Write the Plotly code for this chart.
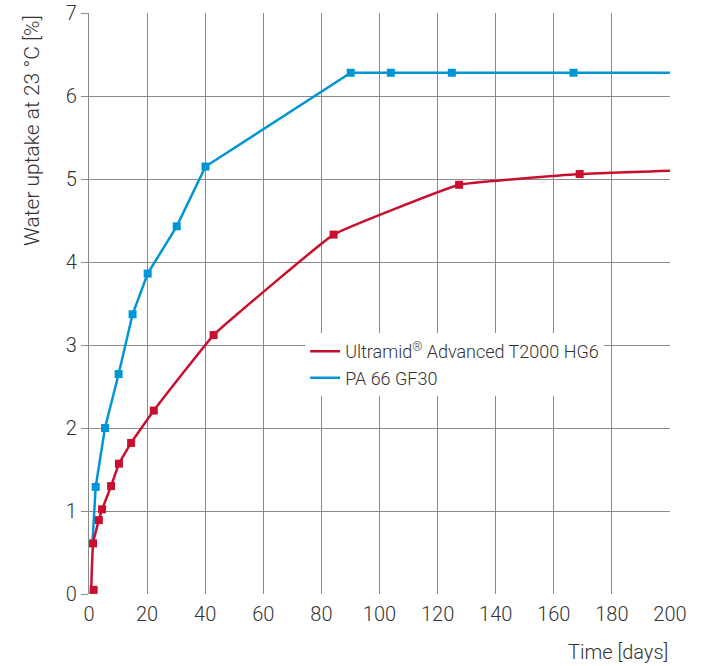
import plotly.graph_objects as go

# Data
red_name = "Ultramid<sup>®</sup> Advanced T2000 HG6"
red_days = [1.6, 1.4, 3.4, 4.5, 7.6, 10.3, 14.5, 22.3, 42.9, 84.2, 127.4, 168.9]
red_vals = [0.05, 0.61, 0.89, 1.02, 1.30, 1.57, 1.82, 2.21, 3.12, 4.33, 4.93, 5.06]
red_start_day = [0.7]
red_start_val = [0.0]
red_end_day = [200]
red_end_val = [5.10]

blue_name = "PA 66 GF30"
blue_days = [2.3, 5.5, 10.2, 15.0, 20.2, 30.2, 40.1, 90.1, 103.9, 124.9, 166.8]
blue_vals = [1.29, 2.00, 2.65, 3.37, 3.86, 4.43, 5.15, 6.28, 6.28, 6.28, 6.28]
blue_start_day = [1.2]
blue_start_val = [0.62]
blue_end_day = [200]
blue_end_val = [6.28]

x_ticks = [0, 20, 40, 60, 80, 100, 120, 140, 160, 180, 200]
y_ticks = [0, 1, 2, 3, 4, 5, 6, 7]

RED = "#C8102E"
BLUE = "#0095D6"
GRID = "#8a8a8a"
TXT = "#333333"
FONT = "Roboto"
W = 300

fig = go.Figure()

fig.add_trace(go.Scatter(
    x=blue_start_day + blue_days + blue_end_day,
    y=blue_start_val + blue_vals + blue_end_val,
    mode="lines", line=dict(color=BLUE, width=2.5),
    showlegend=False, hoverinfo="skip"))
fig.add_trace(go.Scatter(
    x=blue_days, y=blue_vals, mode="markers",
    marker=dict(symbol="square", size=8, color=BLUE),
    showlegend=False))

red_line_x = red_start_day + red_days[1:] + red_end_day
red_line_y = red_start_val + red_vals[1:] + red_end_val
fig.add_trace(go.Scatter(
    x=red_line_x, y=red_line_y,
    mode="lines", line=dict(color=RED, width=2.5, shape="spline", smoothing=0.25),
    showlegend=False, hoverinfo="skip"))
fig.add_trace(go.Scatter(
    x=red_days, y=red_vals, mode="markers",
    marker=dict(symbol="square", size=8, color=RED),
    showlegend=False))

# legend entries
fig.add_trace(go.Scatter(x=[None], y=[None], mode="lines",
                         line=dict(color=RED, width=2.5), name=red_name))
fig.add_trace(go.Scatter(x=[None], y=[None], mode="lines",
                         line=dict(color=BLUE, width=2.5), name=blue_name))

fig.update_layout(
    width=707, height=666,
    margin=dict(l=89, r=37, t=13, b=72, autoexpand=False),
    paper_bgcolor="white", plot_bgcolor="white",
    font=dict(family=FONT, color=TXT, size=20, weight=W),
    legend=dict(x=0.372, y=0.449, xanchor="left", yanchor="top",
                bgcolor="white", borderwidth=0,
                font=dict(family=FONT, size=18, color=TXT, weight=W),
                itemwidth=30),
    xaxis=dict(range=[0, 200], tickvals=x_ticks, showgrid=True,
               gridcolor=GRID, gridwidth=1.3, zeroline=False,
               showline=False, ticks="", ticklabelstandoff=6,
               automargin=False,
               tickfont=dict(size=20, color=TXT, family=FONT, weight=W)),
    yaxis=dict(range=[0, 7], tickvals=y_ticks, showgrid=True,
               gridcolor=GRID, gridwidth=1.3, zeroline=False,
               showline=True, linecolor=GRID, linewidth=1.3,
               ticks="outside", ticklen=7, tickcolor=GRID, tickwidth=1.3,
               automargin=False,
               tickfont=dict(size=20, color=TXT, family=FONT, weight=W)),
    annotations=[
        dict(text="Water uptake at 23 °C [%]", textangle=-90,
             xref="paper", yref="paper", x=-0.099, y=1.0,
             xanchor="center", yanchor="top", showarrow=False,
             font=dict(size=21, color=TXT, family=FONT, weight=W)),
        dict(text="Time [days]", xref="paper", yref="paper",
             x=1.0, y=-0.0998, xanchor="right", yanchor="middle",
             showarrow=False, font=dict(size=20, color=TXT, family=FONT, weight=W)),
    ],
)

fig.write_html("out.html", config={"displayModeBar": False},
               post_script="document.body.style.margin='0';document.body.style.padding='0';")
